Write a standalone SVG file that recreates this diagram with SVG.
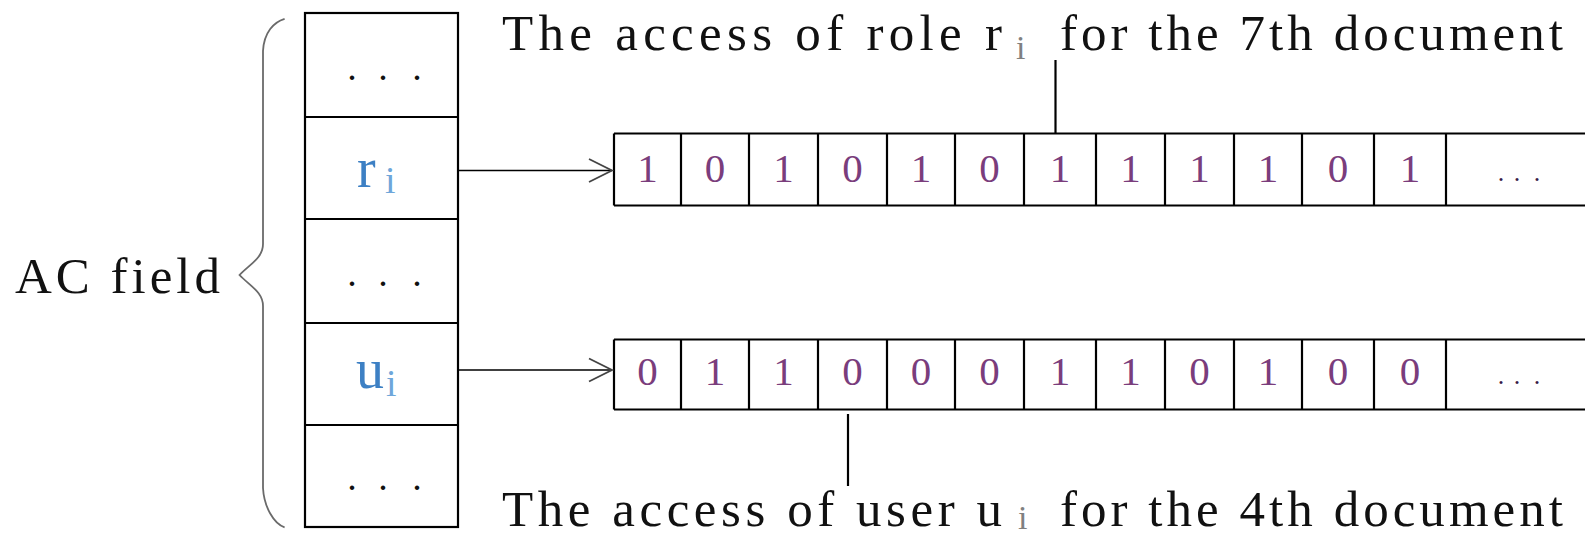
<svg xmlns="http://www.w3.org/2000/svg" width="1585" height="535" viewBox="0 0 1585 535">
<style>
.lbl{font-family:"Liberation Serif","DejaVu Serif",serif;font-size:51px;fill:#111}
.sub{font-family:"Liberation Serif","DejaVu Serif",serif;font-size:34px;fill:#808080}
.box{fill:#fff;stroke:#000;stroke-width:2.2}
.ln{stroke:#000;stroke-width:2.2;fill:none}
.bit{font-family:"Liberation Serif","DejaVu Serif",serif;font-size:41px;fill:#7a3d7c;text-anchor:middle}
.dots{font-family:"Liberation Serif","DejaVu Serif",serif;font-size:38px;fill:#111;text-anchor:middle}
.sdots{font-family:"Liberation Serif","DejaVu Serif",serif;font-size:26px;fill:#3a1a4a;text-anchor:middle}
.var{font-family:"Liberation Serif","DejaVu Serif",serif;font-size:56px;fill:#3d80c4}
.vsub{font-family:"Liberation Serif","DejaVu Serif",serif;font-size:38px;fill:#6ea6da}
.conn{stroke:#000;stroke-width:1.6;fill:none}
.head{stroke:#444;stroke-width:1.8;fill:none}
.brace{stroke:#6a6a6a;stroke-width:1.8;fill:none}
</style>

<g id="ac-field">
<text class="lbl" x="15" y="292.5" textLength="205" lengthAdjust="spacing">AC field</text>
<path class="brace" d="M284.6,18.8 C274,22 264,32 263,51 L263,244 C263,258 250,264 239.5,275 C250,286 263,292 263,306 L263,488 C264,507 274,524 284.6,527.3"/>
</g>

<g id="column">
<rect class="box" x="305" y="13" width="153" height="514"/>
<line class="ln" x1="305" y1="117" x2="458" y2="117"/>
<line class="ln" x1="305" y1="219" x2="458" y2="219"/>
<line class="ln" x1="305" y1="323" x2="458" y2="323"/>
<line class="ln" x1="305" y1="425" x2="458" y2="425"/>
<text class="dots" x="352 383 417" y="80">...</text>
<text class="var" x="357" y="187">r</text><text class="vsub" x="385" y="193">i</text>
<text class="dots" x="352 383 417" y="286">...</text>
<text class="var" x="356" y="388">u</text><text class="vsub" x="386" y="396">i</text>
<text class="dots" x="352 383 417" y="490">...</text>
</g>

<g id="role-bits">
<line class="ln" x1="614" y1="133.5" x2="1585" y2="133.5"/>
<line class="ln" x1="614" y1="205.5" x2="1585" y2="205.5"/>
<path class="ln" d="M614,133.5V205.5M681,133.5V205.5M749,133.5V205.5M818,133.5V205.5M887,133.5V205.5M955,133.5V205.5M1024,133.5V205.5M1096,133.5V205.5M1165,133.5V205.5M1234,133.5V205.5M1302,133.5V205.5M1374,133.5V205.5M1446,133.5V205.5"/>
<text class="bit" x="647.5 715 783.5 852.5 921 989.5 1060 1130.5 1199.5 1268 1338 1410" y="182">101010111101</text>
<text class="sdots" x="1501 1517 1537" y="181">...</text>
</g>

<g id="user-bits">
<line class="ln" x1="614" y1="339.5" x2="1585" y2="339.5"/>
<line class="ln" x1="614" y1="409.5" x2="1585" y2="409.5"/>
<path class="ln" d="M614,339.5V409.5M681,339.5V409.5M749,339.5V409.5M818,339.5V409.5M887,339.5V409.5M955,339.5V409.5M1024,339.5V409.5M1096,339.5V409.5M1165,339.5V409.5M1234,339.5V409.5M1302,339.5V409.5M1374,339.5V409.5M1446,339.5V409.5"/>
<text class="bit" x="647.5 715 783.5 852.5 921 989.5 1060 1130.5 1199.5 1268 1338 1410" y="385">011000110100</text>
<text class="sdots" x="1501 1517 1537" y="384">...</text>
</g>

<g id="role-label">
<text class="lbl" x="502" y="50" textLength="500" lengthAdjust="spacing">The access of role r</text>
<text class="sub" x="1016" y="59">i</text>
<text class="lbl" x="1060" y="50" textLength="503" lengthAdjust="spacing">for the 7th document</text>
</g>

<g id="user-label">
<text class="lbl" x="502" y="525.7" textLength="500" lengthAdjust="spacing">The access of user u</text>
<text class="sub" x="1018" y="529">i</text>
<text class="lbl" x="1060" y="525.7" textLength="503" lengthAdjust="spacing">for the 4th document</text>
</g>

<g id="connectors">
<line class="conn" x1="458" y1="170.5" x2="612" y2="170.5"/>
<path class="head" d="M589,159 L612,170.5 L589,182"/>
<line class="conn" x1="458" y1="370" x2="612" y2="370"/>
<path class="head" d="M589,358.5 L612,370 L589,381.5"/>
<line class="ln" x1="1055.5" y1="60" x2="1055.5" y2="133.5"/>
<line class="ln" x1="848" y1="414" x2="848" y2="486"/>
</g>
</svg>
